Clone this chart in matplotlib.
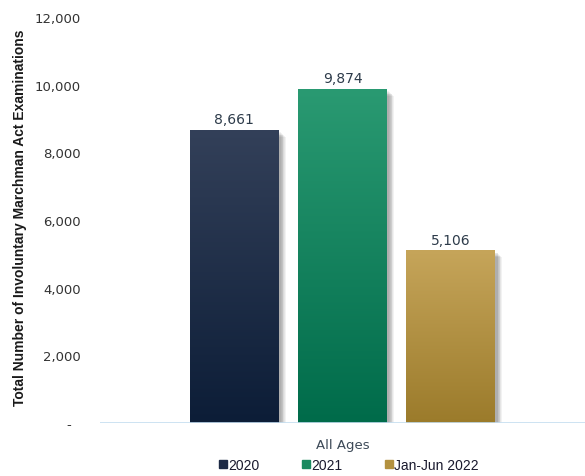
import numpy as np
import matplotlib
matplotlib.use("Agg")
import matplotlib.pyplot as plt
import matplotlib.transforms as mtransforms
from matplotlib.patches import Rectangle
from matplotlib.colors import LinearSegmentedColormap
from matplotlib.lines import Line2D

categories = ["All Ages"]
series = ["2020", "2021", "Jan-Jun 2022"]
values = [8661, 9874, 5106]
yticks = [0, 2000, 4000, 6000, 8000, 10000, 12000]
ytick_labels = ["-  ", "2,000", "4,000", "6,000", "8,000", "10,000", "12,000"]
top_colors = ["#334059", "#2a9a72", "#c6a55a"]
bottom_colors = ["#0c1d37", "#006b4a", "#9b7b2b"]
legend_colors = ["#1d2a45", "#1a8a60", "#b3913f"]

W, H = 585, 477
fig = plt.figure(figsize=(W / 100, H / 100), dpi=100)
ax = fig.add_axes([100 / W, 53 / H, 485 / W, 406 / H])
ax.set_xlim(-0.5, 0.5)
ax.set_ylim(0, 12000)

width = 0.1835
step = 0.223

for i, (v, tc, bc) in enumerate(zip(values, top_colors, bottom_colors)):
    x0 = (i - 1) * step - width / 2
    # soft shadow
    for k in range(7):
        off = mtransforms.offset_copy(ax.transData, fig=fig, x=2.5 + k * 0.7, y=-(2.5 + k * 0.7), units="dots")
        sh = Rectangle((x0, 0), width, v, transform=off, facecolor="#000000",
                       alpha=0.05, edgecolor="none", zorder=1)
        ax.add_patch(sh)
    bar = ax.bar((i - 1) * step, v, width=width, color=tc, zorder=2, label=series[i])[0]
    cmap = LinearSegmentedColormap.from_list("g%d" % i, [bc, tc])
    grad = np.linspace(0, 1, 256).reshape(-1, 1)
    im = ax.imshow(grad, cmap=cmap, aspect="auto", origin="lower",
                   extent=[x0, x0 + width, 0, v], zorder=3)
    im.set_clip_path(bar)
    ax.text((i - 1) * step, v + 110, f"{v:,}", ha="center", va="bottom",
            fontsize=10, color="#2d3b4a", family="DejaVu Sans", zorder=5)

ax.set_xlim(-0.5, 0.5)
ax.set_ylim(0, 12000)
ax.axhline(0, color="#c5def0", lw=1.2, zorder=4)

for s in ["top", "right", "left", "bottom"]:
    ax.spines[s].set_visible(False)

ax.set_yticks(yticks)
ax.set_yticklabels(ytick_labels, fontsize=9.5, color="#333333", family="DejaVu Sans")
ax.tick_params(axis="y", length=0, pad=14)
ax.set_xticks([0])
ax.set_xticklabels(categories, fontsize=9.5, color="#3d4a58", family="DejaVu Sans")
ax.tick_params(axis="x", length=0, pad=11)

fig.text(20 / W, 1 - 218 / H, "Total Number of Involuntary Marchman Act Examinations",
         rotation=90, ha="center", va="center", fontsize=10, fontweight="bold",
         family="Liberation Sans", color="#1a1a1a")

handles = [Line2D([], [], marker="s", linestyle="none", markersize=6,
                  markerfacecolor=c, markeredgecolor=c) for c in legend_colors]
leg = fig.legend(handles, series, loc="center", bbox_to_anchor=(349 / W, 1 - 466 / H),
                 ncol=3, frameon=False, handlelength=0.55, handletextpad=0.1,
                 columnspacing=3.1, prop={"family": "Liberation Sans", "size": 10})
for t in leg.get_texts():
    t.set_color("#1a1a2e")

fig.savefig("out.png", dpi=100)
